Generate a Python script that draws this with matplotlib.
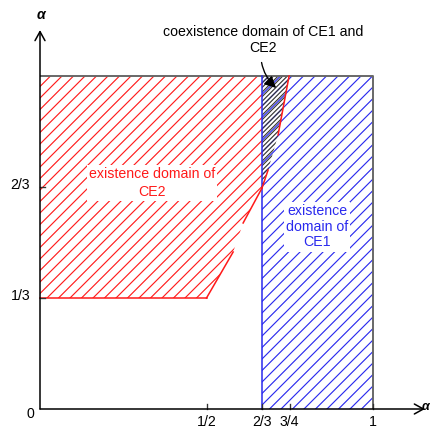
"""
Existence domains of CE1 and CE2 in the (a, alpha) plane.
"""

import matplotlib
matplotlib.use("Agg")
import matplotlib.pyplot as plt
from matplotlib.patches import Polygon, Rectangle

plt.rcParams["font.family"] = ["Liberation Sans", "DejaVu Sans"]
plt.rcParams["hatch.linewidth"] = 0.6

DPI = 138

# boundary of the CE2 domain, from (1/2, 1/3) up to the top edge
CE2_X = [0.5, 0.58, 0.61, 0.6667, 0.685, 0.715, 0.748]
CE2_Y = [1 / 3, 0.4715, 0.5586, 0.6637, 0.7177, 0.8228, 1.0]
CE1_X0 = 2 / 3

X_TICKS = [0.5, 2 / 3, 0.75, 1.0]
X_TICK_LABELS = ["1/2", "2/3", "3/4", "1"]
Y_TICKS = [1 / 3, 2 / 3]
Y_TICK_LABELS = ["1/3", "2/3"]

RED = "#ff1a1a"
BLUE = "#2a2aee"
GRAY = "#666666"
FS = 7.4

fig = plt.figure(figsize=(430 / DPI, 428 / DPI), dpi=DPI)
ax = fig.add_axes([0, 0, 1, 1])
ax.set_xlim(-40 / 333, 390 / 333)
ax.set_ylim(-19 / 333, 409 / 333)
ax.axis("off")

# CE2 domain, cut at x = 2/3 (overlap drawn separately)
k = CE2_X.index(0.6667)
red_pts = [(0, 1 / 3)] + list(zip(CE2_X[: k + 1], CE2_Y[: k + 1])) + [(CE1_X0, 1), (0, 1)]
ax.add_patch(Polygon(red_pts, closed=True, facecolor="none", edgecolor=RED,
                     hatch="////", linewidth=0))

# CE1 domain
ax.add_patch(Rectangle((CE1_X0, 0), 1 - CE1_X0, 1, facecolor="none", edgecolor=BLUE,
                       hatch="////", linewidth=0))

# coexistence
both_pts = list(zip(CE2_X[k:], CE2_Y[k:])) + [(CE1_X0, 1)]
ax.add_patch(Polygon(both_pts, closed=True, facecolor="none", edgecolor="#333333",
                     hatch="//////////", linewidth=0))

# edges
ax.plot([0, 1, 1], [1, 1, 0], color=GRAY, lw=1.0, solid_capstyle="butt")
ax.plot([CE1_X0, CE1_X0], [0, 1], color=BLUE, lw=0.8)
ax.plot([0, CE2_X[0]], [1 / 3, 1 / 3], color=RED, lw=0.8)
for i, j in [(0, 1), (2, 3), (3, 4), (5, 6)]:
    ax.plot(CE2_X[i:j + 1], CE2_Y[i:j + 1], color=RED, lw=0.8)

# axes with open arrow heads
arrow = dict(arrowstyle="->,head_length=0.47,head_width=0.26", lw=0.8,
             color="black", shrinkA=0, shrinkB=0, mutation_scale=10)
ax.annotate("", xy=(1.156, 0), xytext=(0, 0), arrowprops=arrow)
ax.annotate("", xy=(0, 1.138), xytext=(0, 0), arrowprops=arrow)
ax.text(0.003, 1.183, "α", fontsize=FS, fontweight="bold", fontstyle="italic",
        ha="center", va="center")
ax.text(1.168, 0.006, "α", fontsize=6.5, fontweight="bold", fontstyle="italic",
        ha="right", va="center")

# ticks
for x, lab in zip(X_TICKS, X_TICK_LABELS):
    ax.plot([x, x], [0, 0.016], color="#333333", lw=0.7)
    ax.text(x, -0.038, lab, fontsize=FS, ha="center", va="center")
for y, lab in zip(Y_TICKS, Y_TICK_LABELS):
    ax.plot([0, 0.016], [y, y], color="#333333", lw=0.7)
    ax.text(-0.03, y + 0.006, lab, fontsize=FS, ha="right", va="center")
ax.text(-0.03, -0.015, "0", fontsize=FS, ha="center", va="center")

# labels
box = dict(boxstyle="square,pad=0.15", facecolor="white", edgecolor="none")
ax.text(0.336, 0.679, "existence domain of\nCE2", color=RED, fontsize=FS,
        ha="center", va="center", linespacing=1.3, bbox=box)
ax.text(0.832, 0.547, "existence\ndomain of\nCE1", color=BLUE, fontsize=FS,
        ha="center", va="center", linespacing=1.15, bbox=box)
ax.annotate("coexistence domain of CE1 and\nCE2", xy=(0.709, 0.964),
            xytext=(0.6697, 1.108), fontsize=FS, ha="center", va="center",
            linespacing=1.15,
            arrowprops=dict(arrowstyle="-|>,head_length=0.5,head_width=0.25",
                            color="black", lw=0.7, shrinkA=2, shrinkB=0,
                            connectionstyle="arc3,rad=0.3", mutation_scale=10))

fig.savefig("out.png", dpi=DPI)
